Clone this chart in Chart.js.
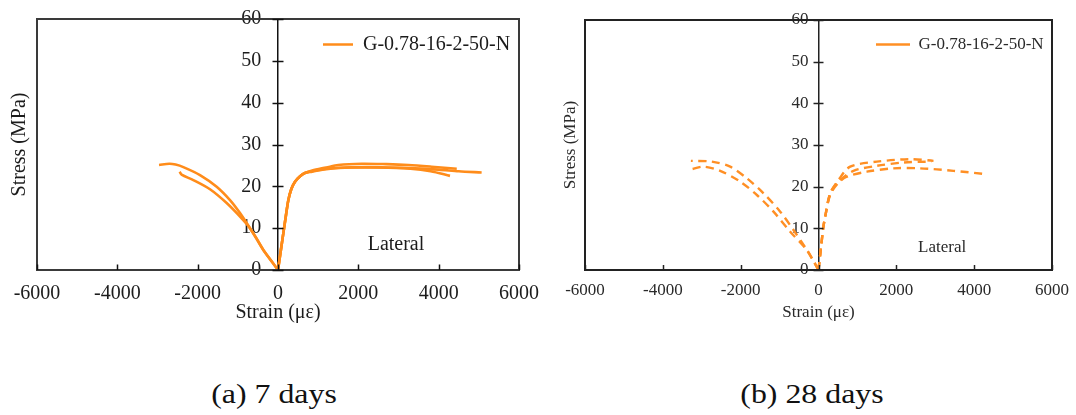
<!DOCTYPE html>
<html>
<head>
<meta charset="utf-8">
<script src="https://cdn.jsdelivr.net/npm/chart.js@4"></script>
<style>
  html, body { margin: 0; padding: 0; background: #fff; }
  body { width: 1076px; height: 415px; position: relative; overflow: hidden; font-family: 'Liberation Serif', 'Times New Roman', serif; }
  canvas { position: absolute; top: 0; }
  #chart7 { left: 0; }
  #chart28 { left: 540px; }
  .caption { position: absolute; top: 381px; font-size: 27px; line-height: 1; color: #111; white-space: nowrap;
             transform: translateX(-50%) scaleX(1.18); }
</style>
</head>
<body>
<canvas id="chart7" width="540" height="330"></canvas>
<canvas id="chart28" width="536" height="330"></canvas>
<div class="caption" style="left:274px">(a) 7 days</div>
<div class="caption" style="left:812px">(b) 28 days</div>
<script>
// Axis ticks
const xTicks = [-6000, -4000, -2000, 0, 2000, 4000, 6000];
const yTicks = [0, 10, 20, 30, 40, 50, 60];
const seriesName = 'G-0.78-16-2-50-N';
const xTitle = 'Strain (με)';
const yTitle = 'Stress (MPa)';
const noteText = 'Lateral';

// 7 days: [strain (με), stress (MPa)]
const d7Left1 = [[0,0],[-180,2.4],[-365,4.8],[-530,7.5],[-697,10.0],[-946,13.6],[-1195,16.7],[-1527,19.9],[-1942,22.7],[-2357,24.6],[-2550,25.2],[-2706,25.4],[-2962,25.1]];
const d7Left2 = [[0,0],[-365,4.8],[-697,10.0],[-900,12.3],[-1278,16.0],[-1693,19.3],[-2108,21.5],[-2400,22.8],[-2450,23.5]];
const d7Right1 = [[0,0],[60,4],[133,8.8],[200,13.2],[257,16.7],[330,19.3],[423,21.1],[550,22.4],[672,23.2],[850,23.8],[1200,24.5],[1502,25.1],[2083,25.4],[2700,25.3],[3245,25.1],[3826,24.7],[4450,24.2]];
const d7Right2 = [[0,0],[60,4],[133,8.8],[200,13.2],[257,16.7],[330,19.3],[423,21.1],[550,22.4],[672,23.2],[850,23.5],[1200,24.1],[1502,24.4],[2166,24.6],[2800,24.5],[3410,24.3],[4000,24.0],[4500,23.6],[5070,23.3]];
const d7Right3 = [[0,0],[60,4],[133,8.8],[200,13.2],[257,16.7],[330,19.3],[423,21.1],[550,22.4],[672,23.2],[850,23.6],[1200,24.2],[1700,24.5],[2500,24.5],[3300,24.2],[3800,23.6],[4282,22.5]];

// 28 days: [strain (με), stress (MPa)]
const d28Left1 = [[0,0],[-120,2],[-298,4.8],[-642,9.6],[-984,14.0],[-1413,18.4],[-1840,22.0],[-2269,24.8],[-2740,26.0],[-3279,26.2]];
const d28Left2 = [[0,0],[-120,2],[-298,4.8],[-727,9.2],[-1156,14.0],[-1583,18.0],[-2012,21.2],[-2526,23.8],[-2955,24.8],[-3253,24.2]];
const d28Right1 = [[0,0],[60,5],[120,10],[172,12.8],[300,18.4],[514,21.6],[814,24.8],[1500,26.0],[2356,26.6],[2955,26.2]];
const d28Right2 = [[0,0],[60,5],[120,10],[172,12.8],[300,18.4],[514,21.2],[900,23.8],[1500,25.0],[2184,25.8],[2785,26.0],[2900,26.0]];
const d28Right3 = [[0,0],[60,5],[120,10],[172,12.8],[300,18.0],[500,20.8],[729,22.4],[1243,23.6],[1927,24.4],[2613,24.4],[3469,23.8],[4327,23.0]];

const SERIF = "'Liberation Serif', 'Times New Roman', serif";
const CLEAR = 'rgba(0,0,0,0)';

// Box frame, inward x ticks, crossing y ticks, annotation text, legend placement
const framePlugin = {
  id: 'frame',
  afterLayout(chart, args, o) {
    const lg = chart.legend, a = chart.chartArea;
    if (lg) {
      lg.left = a.right - o.legendDx;
      lg.right = lg.left + lg.width;
      lg.top = a.top + o.legendDy;
      lg.bottom = lg.top + lg.height;
    }
  },
  afterDatasetsDraw(chart, args, o) {
    const { ctx, chartArea: a, scales: { x, y } } = chart;
    ctx.save();
    ctx.strokeStyle = o.boxColor;
    ctx.lineWidth = o.boxWidth;
    ctx.strokeRect(a.left, a.top, a.right - a.left, a.bottom - a.top);
    ctx.lineWidth = 1.5;
    ctx.strokeStyle = o.tickColor;
    x.ticks.forEach(t => {
      const px = Math.round(x.getPixelForValue(t.value)) + 0.5;
      ctx.beginPath(); ctx.moveTo(px, a.bottom); ctx.lineTo(px, a.bottom - o.tick); ctx.stroke();
    });
    const x0 = x.getPixelForValue(0);
    y.ticks.forEach(t => {
      const py = Math.round(y.getPixelForValue(t.value)) + 0.5;
      ctx.beginPath(); ctx.moveTo(x0 - o.tick, py); ctx.lineTo(x0 + o.tick, py); ctx.stroke();
    });
    ctx.fillStyle = o.textColor;
    ctx.font = o.noteFont;
    ctx.textAlign = 'center';
    ctx.textBaseline = 'middle';
    ctx.fillText(noteText, x.getPixelForValue(o.noteAt[0]), y.getPixelForValue(o.noteAt[1]));
    ctx.restore();
  }
};

function toPoints(arr) { return arr.map(p => ({ x: p[0], y: p[1] })); }

function buildChart(id, series, s) {
  const datasets = series.map(arr => ({
    label: seriesName,
    data: toPoints(arr),
    showLine: true,
    borderColor: s.color,
    backgroundColor: s.color,
    borderWidth: s.lineWidth,
    borderDash: s.dash,
    pointRadius: 0,
    pointHoverRadius: 0,
    pointStyle: 'line',
    tension: 0.3,
    borderCapStyle: 'butt'
  }));
  const tickFont = { family: SERIF, size: s.fontSize, lineHeight: 1 };
  return new Chart(document.getElementById(id), {
    type: 'scatter',
    data: { datasets },
    plugins: [framePlugin],
    options: {
      responsive: false,
      animation: false,
      events: [],
      layout: { padding: s.padding },
      plugins: {
        tooltip: { enabled: false },
        legend: {
          position: 'chartArea',
          align: 'start',
          labels: {
            filter: item => item.datasetIndex === 0,
            usePointStyle: true,
            pointStyleWidth: s.legendLine,
            padding: 10,
            color: s.textColor,
            font: { family: SERIF, size: s.legendFont, lineHeight: 1 }
          }
        },
        frame: {
          legendDx: s.legendDx, legendDy: s.legendDy,
          boxColor: s.boxColor, boxWidth: 2, tickColor: s.axisColor, tick: s.tick,
          textColor: s.textColor, noteFont: s.fontSize + 'px ' + SERIF, noteAt: s.noteAt
        }
      },
      scales: {
        x: {
          type: 'linear', position: 'bottom', min: -6000, max: 6000,
          afterBuildTicks: sc => { sc.ticks = xTicks.map(v => ({ value: v })); },
          // tick marks kept invisible; their length spaces the labels from the frame
          grid: { display: true, drawOnChartArea: false, drawTicks: true, tickLength: s.xGap, color: CLEAR },
          border: { display: false },
          ticks: { padding: 0, color: s.textColor, font: tickFont, maxRotation: 0, autoSkip: false, callback: v => String(v) },
          title: { display: true, text: xTitle, color: s.textColor, font: tickFont, padding: { top: s.xTitlePad, bottom: 0 } }
        },
        y: {
          type: 'linear', position: { x: 0 }, min: 0, max: 60,
          afterBuildTicks: sc => { sc.ticks = yTicks.map(v => ({ value: v })); },
          grid: { display: false, drawTicks: false },
          border: { display: true, color: s.axisColor, width: 1.5 },
          // labels sit right-aligned on the zero line; trailing spacing keeps them clear of it
          ticks: { padding: 0, color: s.textColor, font: tickFont, callback: v => String(v) + s.yGap }
        },
        yTitle: {
          type: 'linear', position: 'left', display: true,
          grid: { display: false, drawTicks: false },
          border: { display: false },
          ticks: { display: false },
          title: { display: true, text: yTitle, color: s.textColor, font: tickFont, padding: s.yTitlePad }
        }
      }
    }
  });
}

buildChart('chart7', [d7Right1, d7Right2, d7Right3, d7Left1, d7Left2], {
  color: '#ff8c1a', lineWidth: 2.6, dash: [],
  fontSize: 20, legendFont: 20, legendLine: 30, legendDx: 206, legendDy: 5.5,
  textColor: '#1c1c1c', boxColor: '#3a3a3a', axisColor: '#111', tick: 5.5,
  padding: { left: 5, right: 21, top: 19, bottom: 7 },
  xGap: 14, xTitlePad: -1, yGap: '   \u200A', yTitlePad: { top: 5, bottom: 7 },
  noteAt: [2937, 6.0]
});

buildChart('chart28', [d28Right1, d28Right2, d28Right3, d28Left1, d28Left2], {
  color: '#ff8f24', lineWidth: 2.4, dash: [8, 5.5],
  fontSize: 17, legendFont: 17, legendLine: 34, legendDx: 186, legendDy: 6,
  textColor: '#2a2a2a', boxColor: '#222', axisColor: '#222', tick: 5,
  padding: { left: 8, right: 24, top: 20, bottom: 8.5 },
  xGap: 12.5, xTitlePad: 5, yGap: '  \u200A', yTitlePad: { top: 14.5, bottom: 5.5 },
  noteAt: [3178, 5.3]
});
</script>
</body>
</html>
